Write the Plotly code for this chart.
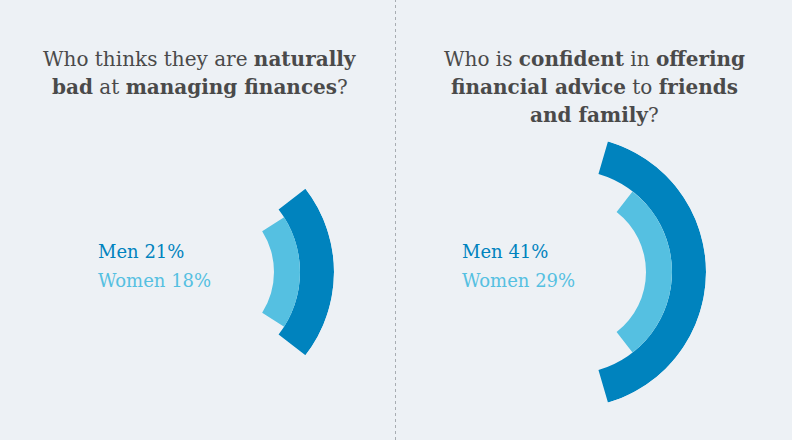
import plotly.graph_objects as go

# ---- data ----
title_lines = [
    ["Who thinks they are <b>naturally</b>",
     "<b>bad</b> at <b>managing finances</b>?"],
    ["Who is <b>confident</b> in <b>offering</b>",
     "<b>financial advice</b> to <b>friends</b>",
     "<b>and family</b>?"],
]
groups = ["Men", "Women"]
men_pct = [21, 41]
women_pct = [18, 29]

# ---- style ----
W, H = 792, 440
BG = "#EDF1F5"
DARK = "#0083BE"
LIGHT = "#55C0E1"
TXT = "#4A4A4A"
FONT = "DejaVu Serif"

R_OUT = 136
R_MID = 102
R_IN = 76
centers = [(198, 272), (570, 272)]

fig = go.Figure()
for i, (cx, cy) in enumerate(centers):
    pid = "polar" if i == 0 else f"polar{i+1}"
    sub = "polar" if i == 0 else f"polar{i+1}"
    fig.add_trace(go.Barpolar(
        r=[R_OUT - R_MID], base=[R_MID], theta=[0], width=[men_pct[i] * 3.6],
        marker=dict(color=DARK, line=dict(width=0)), subplot=sub,
        name=groups[0], showlegend=False, hoverinfo="skip"))
    fig.add_trace(go.Barpolar(
        r=[R_MID - R_IN], base=[R_IN], theta=[0], width=[women_pct[i] * 3.6],
        marker=dict(color=LIGHT, line=dict(width=0)), subplot=sub,
        name=groups[1], showlegend=False, hoverinfo="skip"))
    dom_x = [(cx - R_OUT) / W, (cx + R_OUT) / W]
    dom_y = [1 - (cy + R_OUT) / H, 1 - (cy - R_OUT) / H]
    fig.update_layout(**{pid: dict(
        domain=dict(x=dom_x, y=dom_y),
        bgcolor="rgba(0,0,0,0)",
        barmode="overlay",
        radialaxis=dict(visible=False, range=[0, R_OUT]),
        angularaxis=dict(visible=False, rotation=0, direction="counterclockwise"),
        hole=0,
    )})

# titles (one annotation per line)
title_x = [200, 594]
line_y = [59, 87, 115]
for i, lines in enumerate(title_lines):
    for j, t in enumerate(lines):
        fig.add_annotation(
            x=title_x[i] / W, y=1 - line_y[j] / H, xref="paper", yref="paper",
            xanchor="center", yanchor="middle", align="center",
            text=t, showarrow=False,
            font=dict(family=FONT, size=20, color=TXT))

# labels
label_x = [96, 460]
for i in range(2):
    fig.add_annotation(
        x=label_x[i] / W, y=1 - 251 / H, xref="paper", yref="paper",
        xanchor="left", yanchor="middle", showarrow=False,
        text=f"{groups[0]} {men_pct[i]}%",
        font=dict(family=FONT, size=18, color=DARK))
    fig.add_annotation(
        x=label_x[i] / W, y=1 - 280 / H, xref="paper", yref="paper",
        xanchor="left", yanchor="middle", showarrow=False,
        text=f"{groups[1]} {women_pct[i]}%",
        font=dict(family=FONT, size=18, color=LIGHT))

fig.add_shape(type="line", xref="paper", yref="paper",
              x0=395.5 / W, x1=395.5 / W, y0=0, y1=1,
              line=dict(color="#A8ADB2", width=1, dash="dot"))

fig.update_layout(
    width=W, height=H,
    margin=dict(l=0, r=0, t=0, b=0),
    paper_bgcolor=BG, plot_bgcolor=BG,
    showlegend=False,
)

fig.write_html(
    "out.html",
    config={"displayModeBar": False},
    post_script="document.body.style.margin='0';document.body.style.background='%s';" % BG,
)
